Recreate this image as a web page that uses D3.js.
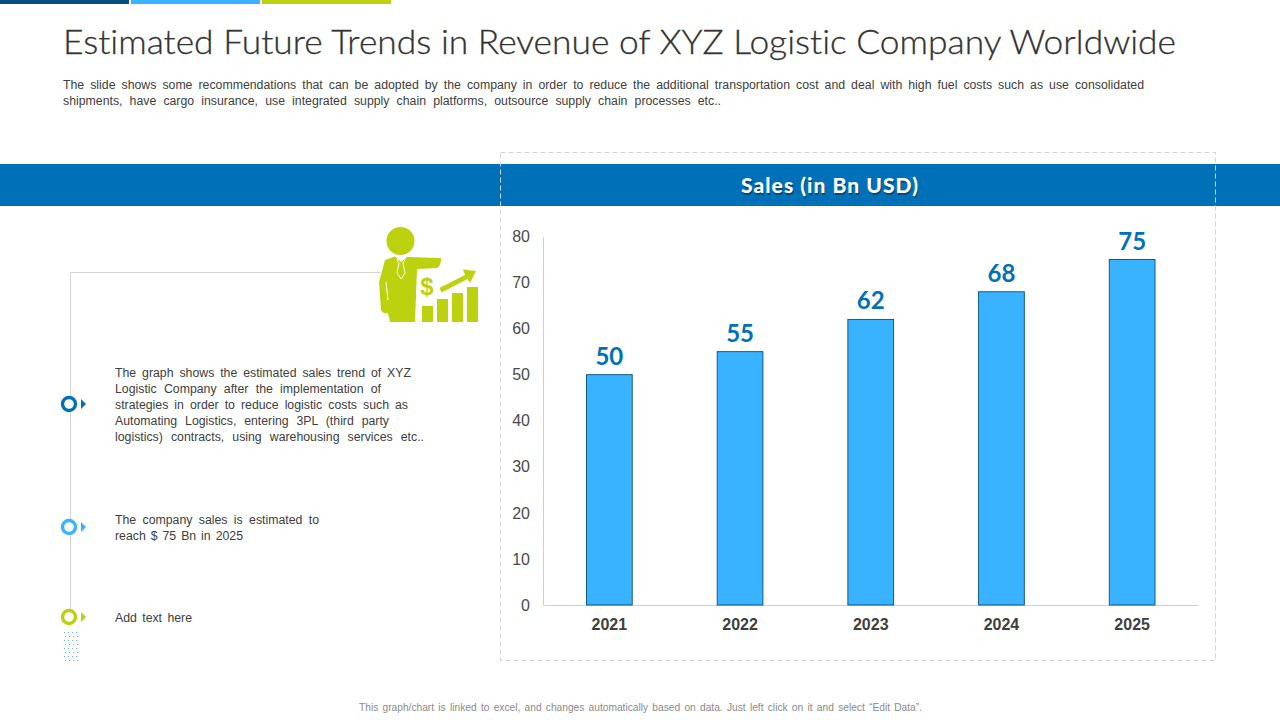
<!DOCTYPE html>
<html>
<head>
<meta charset="utf-8">
<script src="https://cdn.jsdelivr.net/npm/d3@7"></script>
<style>
  html, body { margin: 0; padding: 0; background: #fff; }
  svg { display: block; }
  text { font-family: "Liberation Sans", Arial, sans-serif; font-variant-ligatures: none; }
</style>
</head>
<body>
<script>
const years = ['2021', '2022', '2023', '2024', '2025']
const sales = [50, 55, 62, 68, 75]
const yTicks = [0, 10, 20, 30, 40, 50, 60, 70, 80]

const titleText = 'Estimated Future Trends in Revenue of XYZ Logistic Company Worldwide'
const introLines = [
  'The slide shows some recommendations that can be adopted by the company in order to reduce the additional transportation cost and deal with high fuel costs such as use consolidated',
  'shipments, have cargo insurance, use integrated supply chain platforms, outsource supply chain processes etc..'
]
const introWidths = [1081, 658]
const noteA = [
  'The graph shows the estimated sales trend of XYZ',
  'Logistic Company after the implementation of',
  'strategies in order to reduce logistic costs such as',
  'Automating Logistics, entering 3PL (third party',
  'logistics) contracts, using warehousing services etc..'
]
const noteAWidths = [296, 266, 293, 274, 309]
const noteB = ['The company sales is estimated to', 'reach $ 75 Bn in 2025']
const noteBWidths = [204, 128]
const footText = 'This graph/chart is linked to excel, and changes automatically based on data. Just left click on it and select \u201CEdit Data\u201D.'

const BLUE = '#0071b9', SKY = '#39b3ff', LIME = '#bdd20e', NAVY = '#044f7e'

const svg = d3.select('body').append('svg')
  .attr('width', 1280).attr('height', 720).attr('viewBox', '0 0 1280 720')

// top strips
const strips = [[0, 129, NAVY], [131, 129, SKY], [262, 129, LIME]]
svg.selectAll('rect.strip').data(strips).enter().append('rect')
  .attr('class', 'strip')
  .attr('x', d => d[0]).attr('y', 0).attr('width', d => d[1]).attr('height', 4)
  .attr('fill', d => d[2])

// heading
svg.append('text').attr('x', 63).attr('y', 54)
  .attr('font-size', 34).attr('font-weight', 300).attr('fill', '#333')
  .attr('stroke', '#333').attr('stroke-width', 0.3)
  .attr('textLength', 1113).attr('lengthAdjust', 'spacingAndGlyphs')
  .style('font-family', 'Lato, sans-serif')
  .text(titleText)

// justified lines: stretch the word gaps, not the letters
function block(lines, widths, x, y, lh, size, color) {
  svg.append('g').selectAll('text').data(lines).enter().append('text')
    .attr('x', x).attr('y', (d, i) => y + i * lh)
    .attr('font-size', size).attr('fill', color)
    .text(d => d)
    .each(function(d, i) {
      const gaps = d.split(' ').length - 1
      if (gaps > 0) d3.select(this).attr('word-spacing', (widths[i] - this.getComputedTextLength()) / gaps)
    })
}
block(introLines, introWidths, 63, 89, 16, 12.3, '#404040')

// blue band and dashed frame
svg.append('rect').attr('x', 0).attr('y', 164).attr('width', 1280).attr('height', 42).attr('fill', BLUE)
svg.append('rect').attr('x', 500.5).attr('y', 152.5).attr('width', 715).attr('height', 508)
  .attr('fill', 'none').attr('stroke', '#d0d5d8').attr('stroke-dasharray', '5 3')

const bandTitle = svg.append('g')
bandTitle.append('text').attr('x', 741).attr('y', 193.5)
  .attr('font-size', 21).attr('font-weight', 900).attr('fill', '#0a3d5c').attr('opacity', 0.75)
  .attr('dx', 1).attr('dy', 1).attr('textLength', 177)
  .style('font-family', 'Lato, sans-serif').text('Sales (in Bn USD)')
bandTitle.append('text').attr('x', 741).attr('y', 193)
  .attr('font-size', 21).attr('font-weight', 900).attr('fill', '#fff').attr('textLength', 177)
  .style('font-family', 'Lato, sans-serif').text('Sales (in Bn USD)')

// chart
const x = d3.scaleBand().domain(years).range([544, 1197.5]).paddingInner(0.65).paddingOuter(0.325)
const y = d3.scaleLinear().domain([0, 80]).range([605, 236.5])

const yAxis = svg.append('g').attr('transform', 'translate(543,0)')
  .call(d3.axisLeft(y).tickValues(yTicks).tickSize(0).tickPadding(13).tickFormat(d3.format('d')))
yAxis.select('.domain').attr('stroke', '#d0d0d0')
yAxis.selectAll('text').attr('font-size', 16).attr('fill', '#4a4a4a')
  .style('font-family', '"Liberation Sans", Arial, sans-serif')

const xAxis = svg.append('g').attr('transform', 'translate(0,605)')
  .call(d3.axisBottom(x).tickSize(0).tickPadding(14))
xAxis.select('.domain').attr('stroke', '#d0d0d0')
xAxis.selectAll('text').attr('font-size', 16).attr('font-weight', 700).attr('fill', '#404040')
  .style('font-family', '"Liberation Sans", Arial, sans-serif')

svg.append('g').selectAll('rect').data(sales).enter().append('rect')
  .attr('x', (d, i) => x(years[i]))
  .attr('y', d => y(d))
  .attr('width', x.bandwidth())
  .attr('height', d => y(0) - y(d))
  .attr('fill', SKY).attr('stroke', '#064f7f').attr('stroke-width', 0.9)

svg.append('g').selectAll('text').data(sales).enter().append('text')
  .attr('x', (d, i) => x(years[i]) + x.bandwidth() / 2)
  .attr('y', d => y(d) - 10)
  .attr('text-anchor', 'middle')
  .attr('font-size', 24).attr('font-weight', 700).attr('fill', BLUE)
  .style('font-family', 'Lato, sans-serif')
  .text(d => d)

// left timeline
svg.append('path').attr('d', 'M380.5 272.5H70.5V626').attr('fill', 'none').attr('stroke', '#d4d4d4')

const markers = [[404, BLUE], [527, SKY], [617, LIME]]
const mk = svg.append('g').selectAll('g').data(markers).enter().append('g')
  .attr('transform', d => `translate(69,${d[0]})`)
mk.append('circle').attr('r', 6.5).attr('fill', '#fff').attr('stroke', d => d[1]).attr('stroke-width', 3.4)
mk.append('path').attr('d', 'M12 -5L17 0L12 5Z').attr('fill', d => d[1])

// dotted patch under the last marker
const dotCols = [0, 1, 2, 3], dotRows = d3.range(8)
svg.append('g').selectAll('circle')
  .data(dotRows.flatMap(r => dotCols.map(c => [c, r]))).enter().append('circle')
  .attr('cx', d => 64.5 + d[0] * 4.1 + (d[1] % 2) * 1).attr('cy', d => 632.5 + d[1] * 4)
  .attr('r', 0.6).attr('fill', '#3f9bd0')

block(noteA, noteAWidths, 115, 377, 16, 12.3, '#404040')
block(noteB, noteBWidths, 115, 524, 16, 12.3, '#404040')
block(['Add text here'], [77], 115, 622, 16, 12.3, '#404040')

// businessman icon
const icon = svg.append('g').attr('fill', LIME)
icon.append('circle').attr('cx', 400.5).attr('cy', 241).attr('r', 14)
icon.append('path').attr('d', 'M385 260L395 256.5L401 262L407 257L441 258Q441 266 437 268L417 269L415 322H390L388 313Q383 314 381 310L379 282Z')
icon.append('path').attr('d', 'M386 282L388 300').attr('stroke', '#fff').attr('fill', 'none')
icon.append('path').attr('d', 'M398 257L397 260L399 263L397 273L401 279L405 273L403 263L405 260L404 257')
  .attr('fill', 'none').attr('stroke', '#fff').attr('stroke-width', 0.9)
icon.append('rect').attr('x', 422).attr('y', 306).attr('width', 11).attr('height', 16)
icon.append('rect').attr('x', 437).attr('y', 299).attr('width', 11).attr('height', 23)
icon.append('rect').attr('x', 452).attr('y', 293).attr('width', 11).attr('height', 29)
icon.append('rect').attr('x', 467).attr('y', 287).attr('width', 11).attr('height', 35)
icon.append('path').attr('d', 'M439.5 288L465 275L463 269.5L476 271L470 283L467.5 279L441.5 292.5Z')
icon.append('text').attr('x', 427).attr('y', 295).attr('text-anchor', 'middle')
  .attr('font-size', 24).attr('font-weight', 700).attr('fill', LIME).text('$')

// footer note
svg.append('text').attr('x', 359).attr('y', 711)
  .attr('font-size', 10.2).attr('fill', '#8a8a8a')
  .text(footText)
  .each(function() {
    d3.select(this).attr('word-spacing', (563 - this.getComputedTextLength()) / (footText.split(' ').length - 1))
  })
</script>
</body>
</html>
